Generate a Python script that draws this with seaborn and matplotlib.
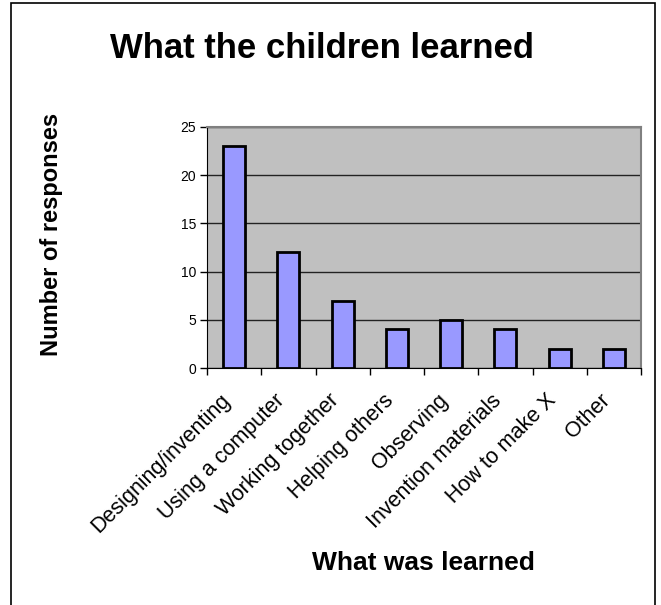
import matplotlib
matplotlib.use("Agg")
import matplotlib.pyplot as plt
import matplotlib.transforms as mtransforms
import seaborn as sns
import pandas as pd
from matplotlib.patches import Rectangle

categories = ["Designing/inventing", "Using a computer", "Working together",
              "Helping others", "Observing", "Invention materials",
              "How to make X", "Other"]
responses = [23, 12, 7, 4, 5, 4, 2, 2]
y_ticks = [0, 5, 10, 15, 20, 25]

df = pd.DataFrame({"what": categories, "count": responses})

sns.set_style("white")
plt.rcParams["font.family"] = ["Liberation Sans", "DejaVu Sans"]
plt.rcParams["text.color"] = "black"
plt.rcParams["xtick.color"] = "black"
plt.rcParams["ytick.color"] = "black"

fig = plt.figure(figsize=(6.61, 6.05), dpi=100)
ax = fig.add_axes([207/661, 1 - 368/605, (641 - 207)/661, (368 - 127)/605])
ax.set_facecolor("#C0C0C0")

sns.barplot(data=df, x="what", y="count", color="#9999FF", width=0.41,
            edgecolor="black", linewidth=2, saturation=1, ax=ax, zorder=3)

ax.set_xlim(-0.5, len(categories) - 0.5)
ax.set_ylim(0, 25)
ax.set_yticks(y_ticks)
ax.set_yticklabels([str(t) for t in y_ticks], fontsize=10)
ax.yaxis.grid(True, color="#222222", linewidth=1)
ax.set_axisbelow(True)
ax.tick_params(axis="y", direction="out", length=5, width=1, color="black",
               left=True, pad=3)

# category labels at the centres, tick marks between categories
ax.set_xticks(range(len(categories)))
ax.set_xticklabels(categories, rotation=45, ha="right", va="top",
                   rotation_mode="anchor", fontsize=15.5)
ax.tick_params(axis="x", length=0, pad=16)
ax.set_xticks([i - 0.5 for i in range(len(categories) + 1)], minor=True)
ax.tick_params(axis="x", which="minor", direction="out", length=5, width=1,
               color="black", bottom=True)

# nudge the rotated labels a bit to the left, like Excel does
shift = mtransforms.ScaledTranslation(-14/100, 0, fig.dpi_scale_trans)
for lab in ax.get_xticklabels():
    lab.set_transform(lab.get_transform() + shift)

for side in ["top", "right"]:
    ax.spines[side].set_color("#808080")
    ax.spines[side].set_linewidth(1.5)
ax.spines["left"].set_color("black")
ax.spines["bottom"].set_color("black")
ax.set_xlabel("")
ax.set_ylabel("")

fig.text(322/661, 1 - 48/605, "What the children learned", fontsize=25,
         fontweight="bold", ha="center", va="center")
fig.text(52/661, 1 - 234/605, "Number of responses", fontsize=17,
         fontweight="bold", ha="center", va="center", rotation=90)
fig.text(423/661, 1 - 563/605, "What was learned", fontsize=19,
         fontweight="bold", ha="center", va="center")

fig.patches.append(Rectangle((11/661, -0.05), (655 - 11)/661, 1.05 - 3/605,
                             transform=fig.transFigure, fill=False,
                             edgecolor="black", linewidth=1.2))

fig.savefig("out.png", dpi=100)
